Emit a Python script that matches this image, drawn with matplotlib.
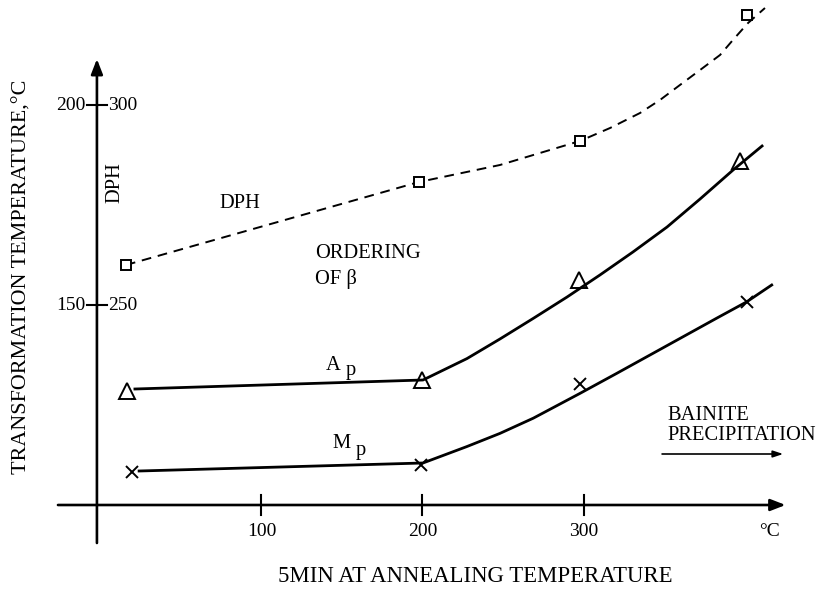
import matplotlib.pyplot as plt

plt.rcParams['font.family'] = ['Liberation Serif', 'DejaVu Serif']

# DPH hardness (right-hand scale, squares) vs annealing temperature
dph_x = [15.8, 197.8, 297.8, 401.5]
dph_y = [260, 280.75, 291, 322.5]
# dashed trend line drawn through the DPH points
dph_line_x = [15.8, 197.8, 248.1, 297.8, 316.5, 335.1, 347.5, 359.9, 372.4, 384.8, 392.8, 402.2, 412.7]
dph_line_y = [260, 280.75, 285, 291, 294.25, 298, 301.25, 305, 308.75, 312.5, 316.25, 320.5, 324.25]

# Ap (triangles)
ap_x = [16.5, 200, 297, 397]
ap_y = [128.5, 131.25, 156.25, 186]
ap_line_x = [21.4, 200.3, 227.6, 248.1, 268.6, 289.8, 310.2, 330.7, 351.9, 372.4, 392.9, 410.9]
ap_line_y = [129, 131.25, 136.6, 141.5, 146.6, 152, 157.5, 163.25, 169.5, 176.5, 183.75, 189.75]

# Mp (crosses)
mp_x = [19.6, 199, 298, 401.5]
mp_y = [108.25, 110, 130.25, 150.75]
mp_line_x = [24, 200.3, 227.5, 248.1, 268.8, 297.8, 320.6, 341.3, 362, 382.7, 401.4, 416.9]
mp_line_y = [108.5, 110.5, 114.6, 117.9, 121.7, 127.9, 132.9, 137.5, 142.1, 146.7, 150.8, 155]

x_ticks = [100, 200, 300]
y_ticks = [150, 200]
dph_ticks = [250, 300]
DPH_OFFSET = 100  # DPH scale = temperature scale + 100

fig = plt.figure(figsize=(8.16, 5.94), dpi=100)
ax = fig.add_axes([0, 0, 1, 1])
ax.set_xlim(-62.4, 444.4)
ax.set_ylim(77.75, 226.25)
ax.axis('off')

fs = 14.8      # annotation text
fs_tick = 14
lw_axis = 1.9

# axes drawn as arrows
ax.annotate('', xy=(-2.2, 211.5), xytext=(-2.2, 90.5),
            arrowprops=dict(arrowstyle='-|>,head_length=0.9,head_width=0.35',
                            lw=lw_axis, color='black', shrinkA=0, shrinkB=0))
ax.annotate('', xy=(425.5, 100), xytext=(-26.4, 100),
            arrowprops=dict(arrowstyle='-|>,head_length=0.9,head_width=0.35',
                            lw=lw_axis, color='black', shrinkA=0, shrinkB=0))

# ticks
for t in x_ticks:
    ax.plot([t, t], [97.6, 102.6], color='black', lw=1.5)
    ax.text(t, 93.3, str(t), ha='center', va='center', fontsize=fs_tick)
ax.text(415.8, 93.3, '°C', ha='center', va='center', fontsize=fs_tick)
for t, d in zip(y_ticks, dph_ticks):
    ax.plot([-8.4, 4.0], [t, t], color='black', lw=1.5)
    ax.text(-9.6, t, str(t), ha='right', va='center', fontsize=fs_tick)
    ax.text(4.6, t, str(d), ha='left', va='center', fontsize=fs_tick)

# axis titles
ax.text(232.6, 82, '5MIN AT ANNEALING TEMPERATURE', ha='center', va='center', fontsize=16.4)
ax.text(-48.6, 157, 'TRANSFORMATION TEMPERATURE,°C', ha='center', va='center',
        rotation=90, fontsize=15.9)
ax.text(9, 180.5, 'DPH', ha='center', va='center', rotation=90, fontsize=fs)

# DPH series
ax.plot(dph_line_x, [v - DPH_OFFSET for v in dph_line_y], color='black', lw=1.4,
        ls=(0, (5, 3.5)))
ax.plot(dph_x, [v - DPH_OFFSET for v in dph_y], ls='none', marker='s', ms=7.5,
        mfc='white', mec='black', mew=1.4)

# Ap and Mp
ax.plot(ap_line_x, ap_line_y, color='black', lw=2.0)
ax.plot(ap_x, ap_y, ls='none', marker='^', ms=11, mfc='none', mec='black', mew=1.4)
ax.plot(mp_line_x, mp_line_y, color='black', lw=2.0)
ax.plot(mp_x, mp_y, ls='none', marker='x', ms=9, mec='black', mew=1.4)

# annotations
ax.text(86.6, 175.5, 'DPH', ha='center', va='center', fontsize=fs)
ax.text(133.2, 162.75, 'ORDERING', ha='left', va='center', fontsize=fs)
ax.text(133.2, 156.6, 'OF β', ha='left', va='center', fontsize=fs)
ax.text(144.4, 135, 'A', ha='center', va='center', fontsize=fs)
ax.text(155.6, 133.6, 'p', ha='center', va='center', fontsize=fs)
ax.text(150, 115.5, 'M', ha='center', va='center', fontsize=fs)
ax.text(161.8, 113.6, 'p', ha='center', va='center', fontsize=fs)
ax.text(351.9, 122.5, 'BAINITE', ha='left', va='center', fontsize=fs)
ax.text(351.9, 117.25, 'PRECIPITATION', ha='left', va='center', fontsize=fs)
ax.annotate('', xy=(424, 112.75), xytext=(348.8, 112.75),
            arrowprops=dict(arrowstyle='-|>,head_length=0.6,head_width=0.2',
                            lw=1.2, color='black', shrinkA=0, shrinkB=0))

fig.savefig('out.png', dpi=100)
